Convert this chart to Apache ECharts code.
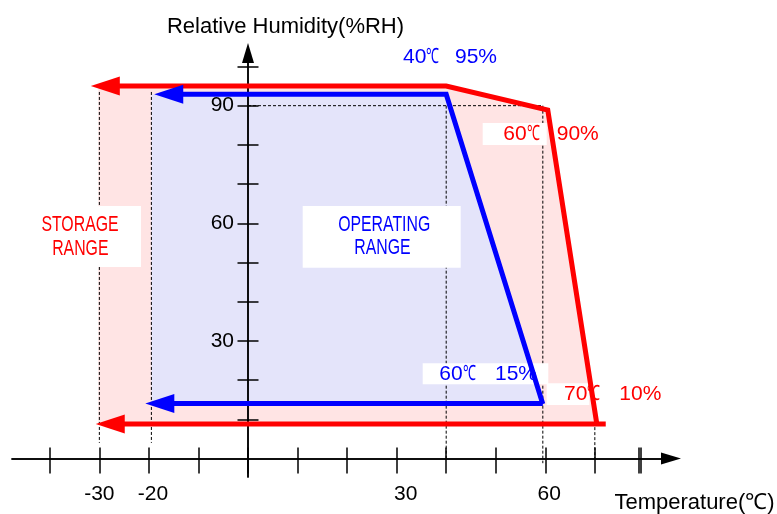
<!DOCTYPE html>
<html lang="en">
<head>
<meta charset="UTF-8">
<title>Operating / storage range</title>
<script src="https://cdn.jsdelivr.net/npm/echarts@6/dist/echarts.min.js"></script>
<style>
    html, body { margin: 0; padding: 0; background: #fff; }
    #main { width: 777px; height: 514px; }
</style>
</head>
<body>
<div id="main"></div>
<script>
// axis ticks and labels
var xTicks = [-40, -30, -20, -10, 0, 10, 20, 30, 40, 50, 60, 70, 78.8, 79.2];
var xLabels = [-30, -20, 30, 60];
var yTicks = [10, 20, 30, 40, 50, 60, 70, 80, 90, 100];
var yLabels = [30, 60, 90];

// storage range (temperature, %RH) - first point carries the arrow head
var storageTop = [[-28.8, 95], [40, 95], [60.5, 88.9], [70.4, 8.8]];
var storageBottom = [[-27.8, 8.8], [72.2, 8.8]];
var storageArea = [[-30.2, 95], [40, 95], [60.5, 88.9], [70.4, 8.8], [-30.2, 8.8]];

// operating range
var operTop = [[-16, 92.9], [40, 92.9], [59.5, 13.9]];
var operBottom = [[-17.8, 14], [59.5, 14]];
var operArea = [[-19.5, 92.9], [40, 92.9], [59.5, 13.9], [-19.5, 13.9]];

// dashed guide lines
var guides = [
    [[-30, 93.5], [-30, 4]],
    [[-19.5, 93.5], [-19.5, 4]],
    [[40, 90], [40, 0]],
    [[59.5, 90], [59.5, -1.2]],
    [[70, 8], [70, 0]],
    [[0, 90], [59.5, 90]]
];

var RED = '#ff0000', BLUE = '#0000ff';
var FONT = "'Liberation Sans', Arial, sans-serif";

var chart = echarts.init(document.getElementById('main'));

function polygon(points, color) {
    return {
        type: 'custom', coordinateSystem: 'cartesian2d', z: 1, silent: true,
        data: [[0, 0]],
        renderItem: function (params, api) {
            return {
                type: 'polygon',
                shape: { points: points.map(function (p) { return api.coord(p); }) },
                style: { fill: color }
            };
        }
    };
}

function outline(points, color) {
    return {
        type: 'line', z: 5, silent: true, clip: false, symbol: 'none',
        lineStyle: { color: color, width: 5, join: 'miter', cap: 'butt' },
        itemStyle: { color: color, borderWidth: 0 },
        data: points.map(function (p, i) {
            if (i === 0) return { value: p, symbol: 'triangle', symbolSize: [19, 29], symbolRotate: 90 };
            return { value: p };
        })
    };
}

// label shift (left padding) for the x tick labels
var pad = { '-30': 0, '-20': 8, '30': 18, '60': 8 };
var labelFont = { fontSize: 21, fontFamily: FONT, color: '#000' };

function note(x, y, text, color, align, size, sx) {
    return {
        type: 'text', z: 6, x: x, y: y, scaleX: sx || 1, silent: true,
        style: {
            text: text, fill: color, font: (size || 21) + 'px ' + FONT,
            align: align || 'left', verticalAlign: 'middle'
        }
    };
}
// "NN℃" with a narrow degree sign
function temp(x, y, digits, color) {
    return [note(x, y, digits, color), note(x + 23.4, y, '℃', color, 'left', 21, 0.62)];
}
function box(x, y, w, h) {
    return { type: 'rect', z: 3, silent: true, shape: { x: x, y: y, width: w, height: h }, style: { fill: '#fff' } };
}

var xMin = -47.63, xMax = 85.37, yMin = -4.72, yMax = 103.44;

var option = {
    animation: false,
    grid: { left: 12, right: 106, top: 53, bottom: 37, containLabel: false, outerBoundsMode: 'none' },
    xAxis: [{
        type: 'value', min: xMin, max: xMax, position: 'bottom', offset: -18.5, z: 4,
        axisLine: { onZero: false, symbol: ['none', 'triangle'], symbolSize: [12, 20], lineStyle: { color: '#000', width: 1.5 } },
        axisTick: { inside: false, length: 15, customValues: xTicks, lineStyle: { color: '#000', width: 1.5 } },
        axisLabel: {
            customValues: xLabels, margin: 25, fontSize: 21, fontFamily: FONT, color: '#000',
            formatter: function (v) { return '{p' + pad[v] + '|' + v + '}'; },
            rich: {
                p0: Object.assign({ padding: [0, 0, 0, 0] }, labelFont),
                p8: Object.assign({ padding: [0, 0, 0, 8] }, labelFont),
                p18: Object.assign({ padding: [0, 0, 0, 18] }, labelFont)
            }
        },
        splitLine: { show: false },
        name: 'Temperature(℃)', nameLocation: 'end', nameGap: 23.5,
        nameTextStyle: { fontSize: 22, fontFamily: FONT, color: '#000', align: 'center', verticalAlign: 'top', padding: [33, 0, 0, 0] }
    }, {
        type: 'value', min: xMin, max: xMax, position: 'bottom', offset: -18.5, z: 4,
        axisLine: { onZero: false, lineStyle: { color: '#000', width: 1.5 } },
        axisTick: { inside: true, length: 11, customValues: xTicks, lineStyle: { color: '#000', width: 1.5 } },
        axisLabel: { show: false },
        splitLine: { show: false }
    }],
    yAxis: [{
        type: 'value', min: yMin, max: yMax, position: 'left', offset: -236, z: 4,
        axisLine: { onZero: false, symbol: ['none', 'triangle'], symbolSize: [12, 20], lineStyle: { color: '#000', width: 1.5 } },
        axisTick: { inside: false, length: 10.5, customValues: yTicks, lineStyle: { color: '#000', width: 1.5 } },
        axisLabel: { customValues: yLabels, margin: 14, fontSize: 21, fontFamily: FONT, color: '#000' },
        splitLine: { show: false },
        name: 'Relative Humidity(%RH)', nameLocation: 'end', nameGap: 15,
        nameTextStyle: { fontSize: 22, fontFamily: FONT, color: '#000', align: 'center', verticalAlign: 'bottom', padding: [0, 0, 0, 75] }
    }, {
        type: 'value', min: yMin, max: yMax, position: 'left', offset: -236, z: 4,
        axisLine: { onZero: false, lineStyle: { color: '#000', width: 1.5 } },
        axisTick: { inside: true, length: 10.5, customValues: yTicks, lineStyle: { color: '#000', width: 1.5 } },
        axisLabel: { show: false },
        splitLine: { show: false }
    }],
    series: [
        polygon(storageArea, '#ffe4e4'),
        polygon(operArea, '#e4e4fa'),
        {
            type: 'custom', coordinateSystem: 'cartesian2d', z: 2, silent: true,
            data: [[0, 0]],
            renderItem: function (params, api) {
                return {
                    type: 'group',
                    children: guides.map(function (g) {
                        var a = api.coord(g[0]), b = api.coord(g[1]);
                        return {
                            type: 'line',
                            shape: { x1: a[0], y1: a[1], x2: b[0], y2: b[1] },
                            style: { stroke: '#000', lineWidth: 1, lineDash: [3, 2] }
                        };
                    })
                };
            }
        },
        outline(storageTop, RED),
        outline(storageBottom, RED),
        outline(operTop, BLUE),
        outline(operBottom, BLUE)
    ],
    graphic: [
        box(20, 206, 121, 61),
        box(302.7, 206, 158, 61.7),
        box(482.7, 123, 64, 22),
        box(422.7, 363.3, 125.6, 21),
        box(546.7, 383.3, 42.6, 21.7),
        note(80, 225, 'STORAGE', RED, 'center', 22, 0.72),
        note(80.3, 249.2, 'RANGE', RED, 'center', 22, 0.72),
        note(384.2, 225, 'OPERATING', BLUE, 'center', 22, 0.72),
        note(382.5, 248.3, 'RANGE', BLUE, 'center', 22, 0.72),
        note(455, 57.5, '95%', BLUE),
        note(556.7, 134, '90%', RED),
        note(495, 374.5, '15%', BLUE),
        note(619.3, 394.5, '10%', RED)
    ].concat(
        temp(403, 57.5, '40', BLUE),
        temp(503.3, 134, '60', RED),
        temp(439.3, 374.5, '60', BLUE),
        temp(564, 394.5, '70', RED)
    )
};

chart.setOption(option);
</script>
</body>
</html>
